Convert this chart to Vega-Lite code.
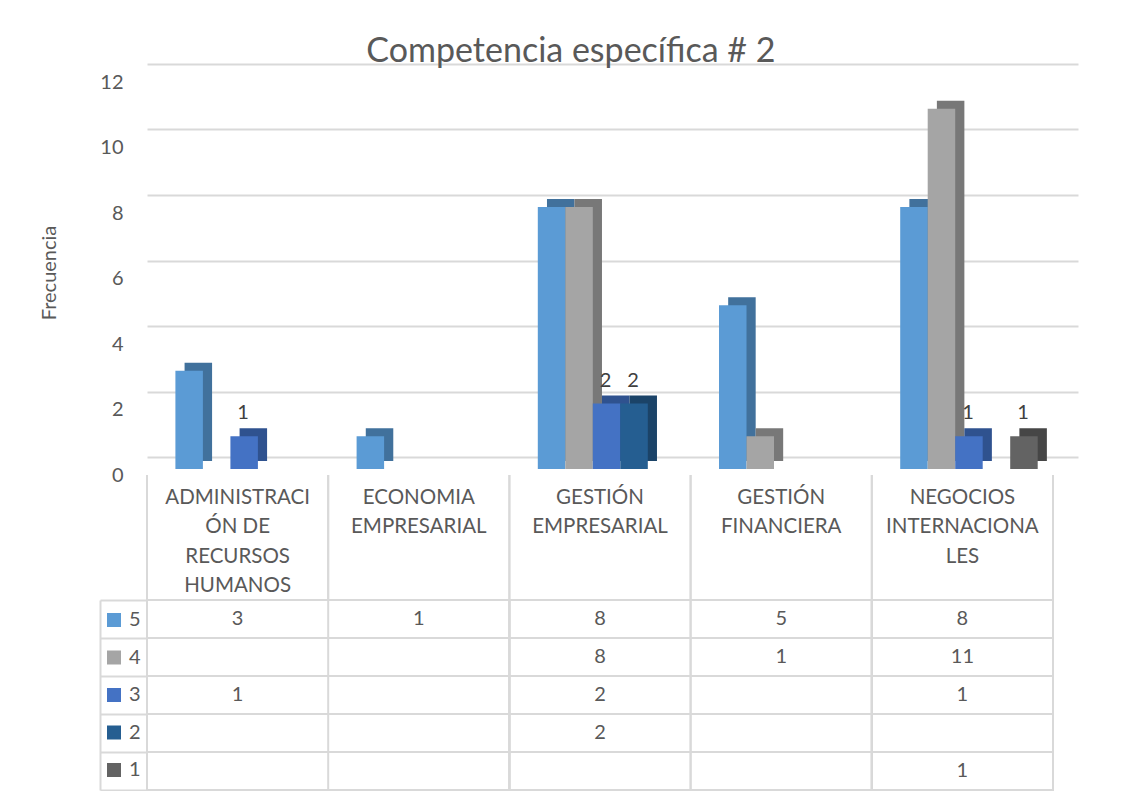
{
  "$schema": "https://vega.github.io/schema/vega-lite/v6.json",
  "background": "white",
  "padding": {"left": 39, "top": 35, "right": 10, "bottom": 0},
  "config": {"font": "Lato", "view": {"stroke": null}},
  "title": {"text": "Competencia específica # 2", "font": "Lato", "fontSize": 34, "fontWeight": "normal", "color": "#595959", "anchor": "middle", "dx": 12, "offset": 3},
  "datasets": {
    "cells": [
      {"cat": "ADMINISTRACIÓN DE RECURSOS HUMANOS", "serie": "5", "value": 3},
      {"cat": "ADMINISTRACIÓN DE RECURSOS HUMANOS", "serie": "3", "value": 1},
      {"cat": "ECONOMIA EMPRESARIAL", "serie": "5", "value": 1},
      {"cat": "GESTIÓN EMPRESARIAL", "serie": "5", "value": 8},
      {"cat": "GESTIÓN EMPRESARIAL", "serie": "4", "value": 8},
      {"cat": "GESTIÓN EMPRESARIAL", "serie": "3", "value": 2},
      {"cat": "GESTIÓN EMPRESARIAL", "serie": "2", "value": 2},
      {"cat": "GESTIÓN FINANCIERA", "serie": "5", "value": 5},
      {"cat": "GESTIÓN FINANCIERA", "serie": "4", "value": 1},
      {"cat": "NEGOCIOS INTERNACIONALES", "serie": "5", "value": 8},
      {"cat": "NEGOCIOS INTERNACIONALES", "serie": "4", "value": 11},
      {"cat": "NEGOCIOS INTERNACIONALES", "serie": "3", "value": 1},
      {"cat": "NEGOCIOS INTERNACIONALES", "serie": "1", "value": 1}
    ],
    "cats": [
      {"cat": "ADMINISTRACIÓN DE RECURSOS HUMANOS", "label": "ADMINISTRACI\nÓN DE\nRECURSOS\nHUMANOS"},
      {"cat": "ECONOMIA EMPRESARIAL", "label": "ECONOMIA\nEMPRESARIAL"},
      {"cat": "GESTIÓN EMPRESARIAL", "label": "GESTIÓN\nEMPRESARIAL"},
      {"cat": "GESTIÓN FINANCIERA", "label": "GESTIÓN\nFINANCIERA"},
      {"cat": "NEGOCIOS INTERNACIONALES", "label": "NEGOCIOS\nINTERNACIONA\nLES"}
    ]
  },
  "spacing": 0,
  "bounds": "flush",
  "resolve": {"scale": {"x": "independent", "y": "independent", "color": "independent", "xOffset": "independent"}},
  "vconcat": [
    {
      "width": 931,
      "height": 393,
      "data": {"name": "cells"},
      "encoding": {
        "x": {"field": "cat", "type": "nominal", "axis": null,
              "scale": {"domain": ["ADMINISTRACIÓN DE RECURSOS HUMANOS", "ECONOMIA EMPRESARIAL", "GESTIÓN EMPRESARIAL", "GESTIÓN FINANCIERA", "NEGOCIOS INTERNACIONALES"], "paddingInner": 0, "paddingOuter": 0.069, "align": 0}},
        "y": {"field": "value", "type": "quantitative",
              "scale": {"domain": [0, 12], "nice": false},
              "axis": {"values": [0, 2, 4, 6, 8, 10, 12], "grid": true, "gridColor": "#D9D9D9", "gridWidth": 2,
                       "tickOffset": -12, "labelOffset": 18, "ticks": false, "domain": false, "labelFlush": false,
                       "labelPadding": 24, "labelFont": "Lato", "labelFontSize": 20, "labelColor": "#595959",
                       "title": "Frecuencia", "titleFont": "Lato", "titleFontSize": 20, "titleFontWeight": "normal",
                       "titleColor": "#595959", "titlePadding": 40}}
      },
      "layer": [
        {
          "mark": {"type": "bar", "yOffset": -8},
          "encoding": {
            "xOffset": {"field": "serie", "type": "nominal",
                        "scale": {"domain": ["5", "4", "3", "2", "1"], "paddingInner": 0, "paddingOuter": 0.7945, "align": 0.86}},
            "color": {"field": "serie", "type": "nominal", "legend": null,
                      "scale": {"domain": ["5", "4", "3", "2", "1"], "range": ["#41719C", "#787878", "#2F528F", "#1B4368", "#464646"]}}
          }
        },
        {
          "layer": [
            {
              "mark": {"type": "bar"},
              "encoding": {
                "color": {"field": "serie", "type": "nominal", "legend": null,
                          "scale": {"domain": ["5", "4", "3", "2", "1"], "range": ["#5B9BD5", "#A5A5A5", "#4472C4", "#255E91", "#636363"]}}
              }
            },
            {
              "transform": [{"filter": "datum.serie == '3' || datum.serie == '2' || datum.serie == '1'"}],
              "mark": {"type": "text", "baseline": "alphabetic", "dy": -17, "dx": -1, "font": "Lato", "fontSize": 20, "color": "#404040"},
              "encoding": {"text": {"field": "value", "type": "quantitative"}}
            }
          ],
          "encoding": {
            "xOffset": {"field": "serie", "type": "nominal",
                        "scale": {"domain": ["5", "4", "3", "2", "1"], "paddingInner": 0, "paddingOuter": 0.7945, "align": 0.65}}
          }
        }
      ],
      "resolve": {"scale": {"color": "independent", "xOffset": "independent"}}
    },
    {
      "width": 906,
      "height": 131,
      "data": {"name": "cats"},
      "layer": [
        {
          "mark": {"type": "rule", "color": "#D9D9D9", "strokeWidth": 2, "yOffset": 6},
          "encoding": {"x": {"field": "cat", "type": "nominal", "bandPosition": 0, "axis": null,
                             "scale": {"domain": ["ADMINISTRACIÓN DE RECURSOS HUMANOS", "ECONOMIA EMPRESARIAL", "GESTIÓN EMPRESARIAL", "GESTIÓN FINANCIERA", "NEGOCIOS INTERNACIONALES"], "paddingInner": 0, "paddingOuter": 0}}}
        },
        {
          "mark": {"type": "rule", "color": "#D9D9D9", "strokeWidth": 2, "yOffset": 6},
          "encoding": {"x": {"field": "cat", "type": "nominal", "bandPosition": 1, "axis": null}}
        },
        {
          "mark": {"type": "text", "lineBreak": "\n", "baseline": "top", "dy": -47, "font": "Lato", "fontSize": 20.5, "lineHeight": 29.5, "color": "#595959"},
          "encoding": {
            "x": {"field": "cat", "type": "nominal", "axis": null},
            "text": {"field": "label", "type": "nominal"}
          }
        }
      ]
    },
    {
      "width": 906,
      "height": 190,
      "data": {"name": "cells"},
      "layer": [
        {
          "mark": {"type": "rect", "filled": false, "stroke": "#D9D9D9", "strokeWidth": 2},
          "encoding": {
            "y": {"field": "serie", "type": "nominal",
                  "scale": {"domain": ["5", "4", "3", "2", "1"], "paddingInner": 0, "paddingOuter": 0},
                  "axis": {"tickBand": "extent", "offset": 47, "ticks": true, "tickSize": -47, "tickColor": "#D9D9D9", "tickWidth": 2, "labels": false, "domain": true, "domainColor": "#D9D9D9", "domainWidth": 2, "grid": false, "title": null}}
          }
        },
        {
          "mark": {"type": "rule", "color": "#D9D9D9", "strokeWidth": 2},
          "encoding": {"x": {"field": "cat", "type": "nominal", "bandPosition": 0, "axis": null,
                             "scale": {"domain": ["ADMINISTRACIÓN DE RECURSOS HUMANOS", "ECONOMIA EMPRESARIAL", "GESTIÓN EMPRESARIAL", "GESTIÓN FINANCIERA", "NEGOCIOS INTERNACIONALES"], "paddingInner": 0, "paddingOuter": 0}}}
        },
        {
          "mark": {"type": "text", "font": "Lato", "fontSize": 20, "color": "#595959"},
          "encoding": {
            "x": {"field": "cat", "type": "nominal", "axis": null},
            "y": {"field": "serie", "type": "nominal", "axis": {"tickBand": "extent", "offset": 47, "ticks": true, "tickSize": -47, "tickColor": "#D9D9D9", "tickWidth": 2, "labels": false, "domain": true, "domainColor": "#D9D9D9", "domainWidth": 2, "grid": false, "title": null}},
            "text": {"field": "value", "type": "quantitative"}
          }
        },
        {
          "transform": [{"filter": "false"}],
          "mark": {"type": "square", "opacity": 1},
          "encoding": {
            "color": {"field": "serie", "type": "nominal",
                      "scale": {"domain": ["5", "4", "3", "2", "1"], "range": ["#5B9BD5", "#A5A5A5", "#4472C4", "#255E91", "#636363"]},
                      "legend": {"orient": "left", "offset": -52, "title": null, "symbolType": "square", "symbolSize": 196,
                                 "symbolStrokeWidth": 0, "symbolOpacity": 1, "labelFont": "Lato", "labelFontSize": 20,
                                 "labelColor": "#595959", "labelOffset": 5, "rowPadding": 17.5, "padding": 10}}
          }
        }
      ]
    }
  ]
}
